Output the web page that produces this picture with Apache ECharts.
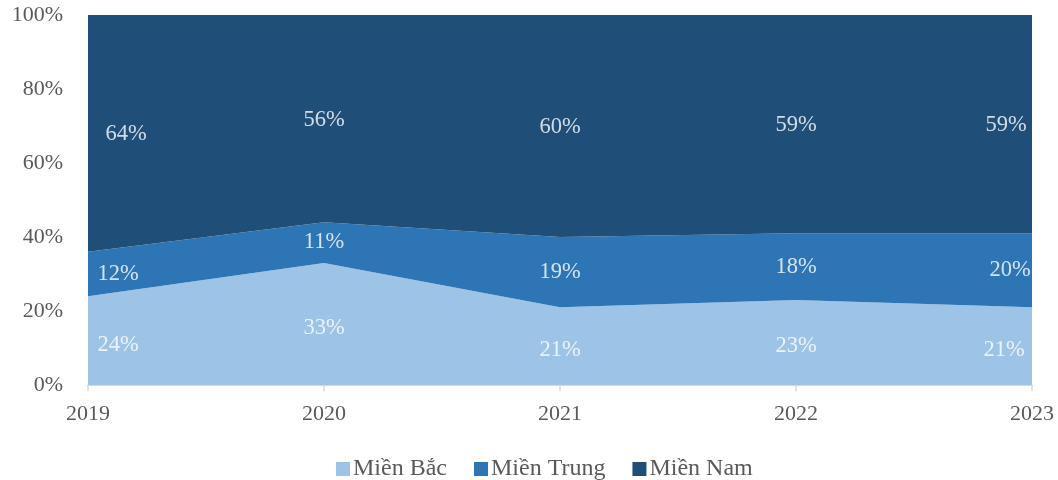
<!DOCTYPE html>
<html>
<head>
<meta charset="utf-8">
<script src="https://cdn.jsdelivr.net/npm/echarts@6/dist/echarts.min.js"></script>
<style>
  html, body { margin: 0; padding: 0; background: #fff; }
  #chart { width: 1058px; height: 480px; }
</style>
</head>
<body>
<div id="chart"></div>
<script>
// Regional share by year, percent
const years = ['2019', '2020', '2021', '2022', '2023'];
const seriesNames = ['Miền Bắc', 'Miền Trung', 'Miền Nam'];
const mienBac = [24, 33, 21, 23, 21];
const mienTrung = [12, 11, 19, 18, 20];
const mienNam = [64, 56, 60, 59, 59];
const yTicks = [0, 20, 40, 60, 80, 100];

const colors = ['#9DC3E6', '#2E75B6', '#1F4E79'];
const font = '"Liberation Serif", "Times New Roman", serif';
const values = [mienBac, mienTrung, mienNam];

// Horizontal nudges for labels at the first/last category so they stay inside the plot
const edgeShift = [[30, -28], [30, -22], [38, -26]];
const labelDy = [4, 0, 1];

const areaSeries = values.map((vals, i) => ({
  name: seriesNames[i],
  type: 'line',
  stack: 'share',
  data: vals,
  symbol: 'none',
  lineStyle: { width: 0 },
  itemStyle: { color: colors[i] },
  areaStyle: { color: colors[i], opacity: 1 },
  z: 2
}));

// Label points sit in the middle of each stacked band
const labelSeries = values.map((vals, i) => ({
  name: seriesNames[i] + ' nhãn',
  type: 'scatter',
  symbolSize: 0,
  silent: true,
  z: 5,
  data: vals.map((v, j) => {
    let base = 0;
    for (let k = 0; k < i; k++) base += values[k][j];
    let offX = 0;
    if (j === 0) offX = edgeShift[i][0];
    if (j === vals.length - 1) offX = edgeShift[i][1];
    return {
      value: [years[j], base + v / 2],
      label: { offset: [offX, labelDy[i]] },
      raw: v
    };
  }),
  label: {
    show: true,
    position: 'inside',
    color: '#ffffff',
    fontFamily: font,
    fontSize: 22.5,
    formatter: p => p.data.raw + '%'
  }
}));

const chart = echarts.init(document.getElementById('chart'), null, { renderer: 'canvas' });
chart.setOption({
  animation: false,
  backgroundColor: '#ffffff',
  color: colors,
  grid: { left: 88, right: 26, top: 15, bottom: 95, containLabel: false },
  legend: {
    data: seriesNames,
    top: 452,
    left: 331,
    icon: 'rect',
    itemWidth: 14,
    itemHeight: 14,
    itemGap: 27,
    textStyle: { fontFamily: font, fontSize: 24, color: '#595959', padding: [0, 0, 0, -2] }
  },
  xAxis: {
    type: 'category',
    data: years,
    boundaryGap: false,
    axisLine: { show: true, lineStyle: { color: '#d9d9d9', width: 1.5 } },
    axisTick: { show: true, length: 6, lineStyle: { color: '#d9d9d9', width: 1.5 } },
    axisLabel: { fontFamily: font, fontSize: 22, color: '#595959', margin: 18 }
  },
  yAxis: {
    type: 'value',
    min: yTicks[0],
    max: yTicks[yTicks.length - 1],
    interval: yTicks[1] - yTicks[0],
    axisLine: { show: false },
    axisTick: { show: false },
    splitLine: { show: true, lineStyle: { color: '#d9d9d9' } },
    axisLabel: { fontFamily: font, fontSize: 22, color: '#595959', margin: 25, formatter: v => v + '%' }
  },
  series: areaSeries.concat(labelSeries)
});
</script>
</body>
</html>
